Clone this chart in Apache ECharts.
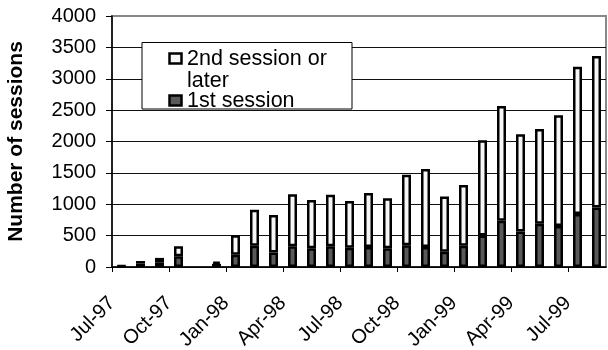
<!DOCTYPE html>
<html>
<head>
<meta charset="utf-8">
<script src="https://cdn.jsdelivr.net/npm/echarts@6/dist/echarts.min.js"></script>
<style>
html,body{margin:0;padding:0;background:#fff;}
#c{width:608px;height:350px;}
</style>
</head>
<body>
<div id="c"></div>
<script>
// Months (categories), one bar per month
var months = ['Jul-97','Aug-97','Sep-97','Oct-97','Nov-97','Dec-97','Jan-98','Feb-98','Mar-98','Apr-98','May-98','Jun-98','Jul-98','Aug-98','Sep-98','Oct-98','Nov-98','Dec-98','Jan-99','Feb-99','Mar-99','Apr-99','May-99','Jun-99','Jul-99','Aug-99'];
// Tick labels sit on month boundaries (one more boundary than months)
var tickLabels = ['Jul-97','Aug-97','Sep-97','Oct-97','Nov-97','Dec-97','Jan-98','Feb-98','Mar-98','Apr-98','May-98','Jun-98','Jul-98','Aug-98','Sep-98','Oct-98','Nov-98','Dec-98','Jan-99','Feb-99','Mar-99','Apr-99','May-99','Jun-99','Jul-99','Aug-99','Sep-99'];
// Series values
var firstSession = [10, 55, 75, 170, null, 50, 195, 340, 233, 330, 297, 330, 307, 318, 297, 345, 318, 244, 339, 503, 737, 567, 689, 652, 843, 949];
var laterSession = [10, 40, 70, 160, null, 35, 310, 572, 595, 830, 770, 821, 743, 860, 800, 1125, 1245, 880, 966, 1517, 1830, 1548, 1512, 1766, 2348, 2412];
var yTicks = {min: 0, max: 4000, step: 500};

var FONT = "'Liberation Sans', Arial, sans-serif";
var chart = echarts.init(document.getElementById('c'), null, {renderer: 'canvas'});
function every3(i){ return i % 3 === 0; }

chart.setOption({
  animation: false,
  backgroundColor: '#fff',
  grid: {left: 112, right: 2, top: 16, bottom: 83, containLabel: false, outerBoundsMode: 'none', show: true, borderColor: '#888', borderWidth: 2, backgroundColor: 'transparent'},
  xAxis: [{
    type: 'category', data: months, boundaryGap: true,
    axisLine: {show: true, lineStyle: {color: '#000', width: 1.5}},
    axisTick: {show: false}, axisLabel: {show: false}, splitLine: {show: false}
  }, {
    type: 'category', data: tickLabels, boundaryGap: false, position: 'bottom',
    axisLine: {show: false},
    axisTick: {show: true, interval: every3, length: 5, lineStyle: {color: '#000', width: 1}},
    axisLabel: {show: true, interval: every3, rotate: 45, margin: 33, color: '#000', fontFamily: FONT, fontSize: 20},
    splitLine: {show: false}
  }],
  yAxis: {
    type: 'value', min: yTicks.min, max: yTicks.max, interval: yTicks.step,
    name: 'Number of sessions', nameLocation: 'middle', nameGap: 85,
    nameTextStyle: {color: '#000', fontFamily: FONT, fontSize: 21, fontWeight: 'bold'},
    axisLine: {show: true, lineStyle: {color: '#000', width: 1.5}},
    axisTick: {show: true, length: 6, lineStyle: {color: '#000', width: 1}},
    axisLabel: {color: '#000', fontFamily: FONT, fontSize: 20, margin: 16, formatter: function(v){ return String(v); }},
    splitLine: {show: true, showMaxLine: false, lineStyle: {color: '#111', width: 1}}
  },
  series: [{
    name: '1st session', type: 'bar', stack: 's', data: firstSession, barWidth: 9,
    itemStyle: {color: '#595959', borderColor: '#000', borderWidth: 2.5}
  }, {
    name: '2nd session or later', type: 'bar', stack: 's', data: laterSession, barWidth: 9,
    itemStyle: {color: '#f7f7f7', borderColor: '#000', borderWidth: 2.5}
  }],
  graphic: [
    {type: 'rect', shape: {x: 142, y: 42.5, width: 210, height: 66.5}, style: {fill: '#fff', stroke: '#000', lineWidth: 1}, z: 100},
    {type: 'rect', shape: {x: 169.5, y: 53.5, width: 12, height: 10}, style: {fill: '#f7f7f7', stroke: '#000', lineWidth: 2.5}, z: 101},
    {type: 'rect', shape: {x: 169.5, y: 95.5, width: 12, height: 10}, style: {fill: '#595959', stroke: '#000', lineWidth: 2.5}, z: 101},
    {type: 'text', x: 187, y: 58.7, style: {text: '2nd session or', fill: '#000', font: "21.5px 'Liberation Sans', Arial, sans-serif", verticalAlign: 'middle'}, z: 101},
    {type: 'text', x: 187, y: 81.3, style: {text: 'later', fill: '#000', font: "21.5px 'Liberation Sans', Arial, sans-serif", verticalAlign: 'middle'}, z: 101},
    {type: 'text', x: 187, y: 101, style: {text: '1st session', fill: '#000', font: "21.5px 'Liberation Sans', Arial, sans-serif", verticalAlign: 'middle'}, z: 101}
  ]
});
</script>
</body>
</html>
